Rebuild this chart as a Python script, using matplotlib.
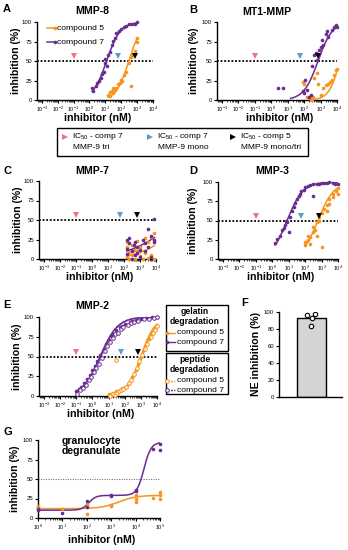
import numpy as np
import matplotlib
matplotlib.use('Agg')
import matplotlib.pyplot as plt
from matplotlib.lines import Line2D
from matplotlib.patches import Rectangle
from matplotlib.ticker import LogLocator, NullFormatter

plt.rcParams['font.family'] = ['Liberation Sans', 'DejaVu Sans']
plt.rcParams['mathtext.fontset'] = 'custom'
plt.rcParams['mathtext.rm'] = 'Liberation Sans'
plt.rcParams['mathtext.bf'] = 'Liberation Sans:bold'
plt.rcParams['mathtext.it'] = 'Liberation Sans:italic'

# ---------------- data ----------------
# IC50 markers (nM)
ic50_comp7_tri = 0.1
ic50_comp7_mono = 60
ic50_comp5_monotri = 700

# Panel A  MMP-8
A_c7_x = [1.5, 1.7, 2.5, 3, 4, 5, 6, 8, 10, 10, 12, 15, 20, 25, 30, 40, 50, 70, 100, 150, 200, 300, 500, 700, 1000]
A_c7_y = [15, 12, 18, 22, 25, 28, 33, 36, 47, 52, 44, 58, 62, 70, 76, 80, 86, 88, 91, 93, 95, 97, 98, 98, 100]
A_c5_x = [15, 20, 20, 25, 30, 30, 40, 50, 60, 80, 100, 120, 150, 200, 400, 300, 400, 500, 700, 1000, 1000]
A_c5_y = [7, 10, 5, 12, 9, 15, 13, 16, 20, 22, 26, 24, 32, 36, 18, 48, 55, 58, 63, 75, 80]
A_fit7 = (0, 100, 12, 1.0)
A_fit5 = (0, 100, 300, 1.1)

# Panel B  MT1-MMP
B_c7_x = [2.5, 5, 80, 100, 120, 150, 200, 250, 300, 400, 500, 600, 800, 1000, 1200, 1500, 2000, 2500, 3000, 5000, 7000, 9000, 9500]
B_c7_y = [16, 16, 11, 9, 26, 13, 4, 6, 43, 58, 60, 51, 64, 68, 77, 71, 85, 88, 81, 90, 94, 96, 93]
B_c5_x = [80, 100, 150, 200, 250, 300, 350, 400, 600, 700, 1000, 1500, 2000, 3000, 4000, 5000, 7000, 9000, 10000]
B_c5_y = [23, 21, 4, 2, 0, 1, 4, 28, 34, 21, 6, 15, 19, 21, 23, 26, 32, 38, 40]
B_fit7 = (0, 100, 700, 1.0)
B_fit5 = (0, 100, 15000, 1.3)

# Panel C  MMP-7
C_c7_x = [150, 150, 150, 200, 200, 300, 300, 400, 500, 500, 700, 700, 1000, 1000, 1500, 2000, 2000, 3000, 3000, 5000, 5000, 8000, 8000, 8000]
C_c7_y = [25, 13, 6, 27, 20, 10, 0, 18, 22, 5, 15, 8, 12, 3, 25, 20, 10, 38, 15, 30, 2, 51, 24, 22]
C_c5_x = [150, 150, 150, 200, 200, 300, 300, 400, 500, 700, 700, 1000, 1000, 1500, 2000, 2000, 3000, 3000, 5000, 5000, 8000, 8000]
C_c5_y = [22, 16, 2, 9, 0, 18, 5, 12, 0, 23, 10, 4, 16, 0, 8, 27, 22, 1, 28, 5, 33, 0]
C_fit7 = (0, 100, 2e5, 0.3)
C_fit5 = (0, 100, 4e5, 0.4)

# Panel D  MMP-3
D_c7_x = [1.5, 2, 3, 4, 5, 6, 7, 8, 10, 12, 15, 20, 25, 30, 40, 50, 60, 80, 100, 150, 200, 300, 300, 500, 700, 1000, 1500, 2000, 3000, 5000, 7000, 10000]
D_c7_y = [21, 26, 30, 38, 40, 44, 50, 48, 35, 55, 62, 68, 73, 78, 82, 85, 88, 90, 93, 95, 96, 97, 82, 98, 98, 99, 99, 99, 100, 99, 98, 97]
D_c5_x = [100, 100, 150, 150, 200, 200, 300, 300, 400, 500, 500, 700, 700, 1000, 1000, 1500, 2000, 2000, 3000, 3000, 5000, 5000, 8000, 10000, 10000]
D_c5_y = [18, 22, 25, 30, 20, 28, 35, 42, 38, 30, 48, 50, 55, 15, 60, 65, 62, 70, 72, 78, 80, 85, 88, 84, 92]
D_fit7 = (0, 100, 8, 0.9)
D_fit5 = (0, 100, 600, 0.9)

# Panel E  MMP-2 (gelatin / peptide degradation)
E_gel7_x = [0.1, 0.15, 0.2, 0.3, 0.5, 0.7, 1, 1.5, 2, 3, 5, 7, 10, 15, 20, 30, 50, 70, 100, 200, 300, 500, 1000, 2000, 5000, 10000]
E_gel7_y = [6, 9, 12, 16, 22, 27, 33, 38, 44, 52, 60, 66, 71, 76, 79, 83, 87, 89, 91, 94, 95, 96, 98, 99, 100, 100]
E_pep7_x = [0.12, 0.18, 0.25, 0.4, 0.6, 0.8, 1.2, 1.8, 2.5, 4, 6, 8, 12, 18, 25, 40, 60, 80, 150, 250, 400, 700, 1500, 3000, 7000, 10000]
E_pep7_y = [3, 7, 10, 14, 20, 24, 30, 36, 41, 48, 57, 63, 68, 73, 78, 80, 85, 87, 90, 92, 94, 95, 97, 98, 99, 100]
E_gel5_x = [10, 15, 20, 30, 40, 50, 70, 100, 150, 200, 300, 500, 700, 1000, 1500, 2000, 3000, 5000, 7000, 10000]
E_gel5_y = [2, 3, 4, 6, 5, 8, 10, 12, 15, 19, 24, 33, 40, 50, 58, 64, 72, 80, 85, 90]
E_pep5_x = [12, 18, 25, 30, 35, 45, 60, 80, 120, 180, 250, 400, 600, 800, 1200, 1800, 2500, 4000, 6000, 8000, 10000]
E_pep5_y = [0, 2, 1, 45, 4, 6, 8, 9, 12, 16, 20, 28, 36, 44, 52, 60, 66, 75, 80, 84, 88]
E_fit_gel7 = (0, 100, 3, 0.8)
E_fit_pep7 = (0, 100, 3.5, 0.85)
E_fit_gel5 = (0, 100, 1000, 1.0)
E_fit_pep5 = (0, 100, 1200, 1.0)

# Panel F  NE inhibition
F_mean = 93
F_points = [97, 93, 98, 84]
F_jitter = [-0.14, 0.0, 0.1, -0.01]

# Panel G  granulocyte degranulation
G_c7_x = [1, 1, 10, 100, 100, 1000, 1000, 10000, 10000, 50000, 100000, 100000]
G_c7_y = [10, 12, 7, 22, 14, 28, 29, 36, 35, 88, 95, 87]
G_c5_x = [1, 1, 10, 100, 100, 1000, 1000, 10000, 10000, 10000, 50000, 100000, 100000, 100000]
G_c5_y = [14, 15, 11, 5, 18, 15, 17, 25, 20, 30, 26, 33, 24, 30]
G_fit7 = (10, 29, 97, 120, 3.0, 2.2e4, 3.0)   # biphasic
G_fit5 = (12, 29, 2000, 1.2)

# ---------------- helpers ----------------
PURPLE = '#6a2c91'
ORANGE = '#f7941d'
RED = '#f0727f'
BLUE = '#5b9bd5'

W, H = 348, 550
fig = plt.figure(figsize=(W / 100, H / 100), dpi=100)


def fx(px):
    return px / W


def fy(py):
    return 1 - py / H


def add_ax(l, t, r, b):
    ax = fig.add_axes([l / W, 1 - b / H, (r - l) / W, (b - t) / H])
    ax.patch.set_alpha(0)
    return ax


def logistic(x, bottom, top, ic50, hill):
    return bottom + (top - bottom) / (1 + (ic50 / x) ** hill)


def biphasic(x, bottom, mid, top, ec1, h1, ec2, h2):
    return bottom + (mid - bottom) / (1 + (ec1 / x) ** h1) + (top - mid) / (1 + (ec2 / x) ** h2)


def base_style(ax, box, ylab_right, xlab_top):
    l, t, r, b = box
    for s in ['top', 'right']:
        ax.spines[s].set_visible(False)
    ax.spines['left'].set_linewidth(1.0)
    ax.spines['bottom'].set_linewidth(1.0)
    ax.tick_params(which='major', length=2.5, width=0.8, labelsize=4.3, pad=1.0)
    ax.tick_params(axis='x', which='major', labelsize=3.9)
    ax.tick_params(which='minor', length=1.4, width=0.5)
    ax.yaxis.set_label_coords((ylab_right - l) / (r - l), 0.5)
    ax.xaxis.set_label_coords(0.52, (b - xlab_top) / (b - t))


def dose_style(ax, box, ylab_right, xlab_top, xlim=(10 ** -3.3, 1e4)):
    ax.set_xscale('log')
    ax.set_xlim(*xlim)
    ax.set_ylim(0, 100)
    ax.set_yticks([0, 25, 50, 75, 100])
    ax.xaxis.set_major_locator(LogLocator(base=10, numticks=20))
    ax.xaxis.set_minor_locator(LogLocator(base=10, subs=np.arange(2, 10), numticks=20))
    ax.xaxis.set_minor_formatter(NullFormatter())
    ax.set_xlabel('inhibitor (nM)', fontsize=7.6, fontweight='bold')
    ax.set_ylabel('inhibition (%)', fontsize=7.6, fontweight='bold')
    base_style(ax, box, ylab_right, xlab_top)


def scatter(ax, x, y, color, open_=False):
    ax.plot(x, y, 'o', ms=2.6, color=color, mfc='white' if open_ else color,
            mew=0.7 if open_ else 0, ls='none', clip_on=False, zorder=4)


def curve(ax, x, func, params, color, ls='-'):
    xs = np.logspace(np.log10(min(x)), np.log10(max(x)), 200)
    ax.plot(xs, func(xs, *params), color=color, lw=1.1, ls=ls, zorder=3)


def ic50_marks(ax, y=56):
    ax.axhline(50, color='black', lw=1.3, ls=(0, (1, 1)), zorder=2)
    for xv, c in [(ic50_comp7_tri, RED), (ic50_comp7_mono, BLUE), (ic50_comp5_monotri, 'black')]:
        ax.plot([xv], [y], marker='v', ms=4, color=c, mew=0, zorder=5, clip_on=False)


def panel_text(letter, lx, ly, title=None, tx=None, ty=None):
    fig.text(fx(lx), fy(ly), letter, fontsize=8, fontweight='bold', ha='left', va='center')
    if title:
        fig.text(fx(tx), fy(ty), title, fontsize=7.6, fontweight='bold', ha='center', va='center')


# ---------------- Panel A ----------------
boxA = (37, 22, 153, 100)
ax = add_ax(*boxA)
dose_style(ax, boxA, 21, 113)
ic50_marks(ax)
curve(ax, A_c5_x, logistic, A_fit5, ORANGE)
curve(ax, A_c7_x, logistic, A_fit7, PURPLE)
scatter(ax, A_c5_x, A_c5_y, ORANGE)
scatter(ax, A_c7_x, A_c7_y, PURPLE)
panel_text('A', 3, 9, 'MMP-8', 92, 11)
for lab, col, yy in [('compound 5', ORANGE, 28), ('compound 7', PURPLE, 42)]:
    fig.add_artist(Line2D([fx(47), fx(55)], [fy(yy), fy(yy)], color=col, lw=1.1,
                          marker='o', ms=2.6, markevery=[1], mew=0))
    fig.text(fx(57), fy(yy), lab, fontsize=6.1, ha='left', va='center')

# ---------------- Panel B ----------------
boxB = (217, 22, 337, 100)
ax = add_ax(*boxB)
dose_style(ax, boxB, 199, 113)
ic50_marks(ax)
curve(ax, [200, 10000], logistic, B_fit5, ORANGE)
curve(ax, [15, 10000], logistic, B_fit7, PURPLE)
scatter(ax, B_c5_x, B_c5_y, ORANGE)
scatter(ax, B_c7_x, B_c7_y, PURPLE)
panel_text('B', 189, 10, 'MT1-MMP', 267, 12)

# ---------------- IC50 legend box ----------------
fig.add_artist(Rectangle((fx(57), fy(156)), (308 - 57) / W, (156 - 128) / H,
                         transform=fig.transFigure, fill=False, lw=1.0, ec='black'))
for tri_x, col, l1, l2 in [(65, RED, 'IC$_{50}$ - comp 7', 'MMP-9 tri'),
                           (150, BLUE, 'IC$_{50}$ - comp 7', 'MMP-9 mono'),
                           (233, 'black', 'IC$_{50}$ - comp 5', 'MMP-9 mono/tri')]:
    fig.add_artist(Line2D([fx(tri_x)], [fy(137)], marker='>', ms=4, color=col, mew=0, ls='none'))
    fig.text(fx(tri_x + 7), fy(137), l1, fontsize=6, ha='left', va='center')
    fig.text(fx(tri_x + 8), fy(147), l2, fontsize=6, ha='left', va='center')

# ---------------- Panel C ----------------
boxC = (39, 181, 156, 259)
ax = add_ax(*boxC)
dose_style(ax, boxC, 23, 272)
ic50_marks(ax)
curve(ax, C_c5_x, logistic, C_fit5, ORANGE)
curve(ax, C_c7_x, logistic, C_fit7, PURPLE)
scatter(ax, C_c5_x, C_c5_y, ORANGE)
scatter(ax, C_c7_x, C_c7_y, PURPLE)
panel_text('C', 3, 171, 'MMP-7', 92, 171)

# ---------------- Panel D ----------------
boxD = (218, 182, 338, 259)
ax = add_ax(*boxD)
dose_style(ax, boxD, 198, 272)
ic50_marks(ax)
curve(ax, D_c5_x, logistic, D_fit5, ORANGE)
curve(ax, D_c7_x, logistic, D_fit7, PURPLE)
scatter(ax, D_c5_x, D_c5_y, ORANGE)
scatter(ax, D_c7_x, D_c7_y, PURPLE)
panel_text('D', 189, 171, 'MMP-3', 272, 171)

# ---------------- Panel E ----------------
boxE = (39, 317, 157, 396)
ax = add_ax(*boxE)
dose_style(ax, boxE, 22, 409)
ic50_marks(ax)
curve(ax, E_gel5_x, logistic, E_fit_gel5, ORANGE)
curve(ax, E_pep5_x, logistic, E_fit_pep5, ORANGE, ls=(0, (1.5, 1)))
curve(ax, E_gel7_x, logistic, E_fit_gel7, PURPLE)
curve(ax, E_pep7_x, logistic, E_fit_pep7, PURPLE, ls=(0, (1.5, 1)))
scatter(ax, E_gel5_x, E_gel5_y, ORANGE)
scatter(ax, E_pep5_x, E_pep5_y, ORANGE, open_=True)
scatter(ax, E_gel7_x, E_gel7_y, PURPLE)
scatter(ax, E_pep7_x, E_pep7_y, PURPLE, open_=True)
panel_text('E', 3, 305, 'MMP-2', 92, 306)

# E legend boxes
for (t0, b0, title_lines, ls, open_) in [
        (305, 351, ['gelatin', 'degradation'], '-', False),
        (353, 394, ['peptide', 'degradation'], (0, (1.5, 1)), True)]:
    fig.add_artist(Rectangle((fx(166), fy(b0)), (228 - 166) / W, (b0 - t0) / H,
                             transform=fig.transFigure, fill=False, lw=1.0, ec='black'))
    fig.text(fx(195), fy(t0 + 7), title_lines[0], fontsize=6.2, fontweight='bold', ha='center', va='center')
    fig.text(fx(195), fy(t0 + 17), title_lines[1], fontsize=6.2, fontweight='bold', ha='center', va='center')
    for lab, col, dy in [('compound 5', ORANGE, 28), ('compound 7', PURPLE, 37)]:
        yy = t0 + dy
        fig.add_artist(Line2D([fx(167), fx(175)], [fy(yy), fy(yy)], color=col, lw=1.0, ls=ls,
                              marker='o', ms=2.6, markevery=[0],
                              mfc='white' if open_ else col, mew=0.7 if open_ else 0))
        fig.text(fx(177), fy(yy), lab, fontsize=6.1, ha='left', va='center')

# ---------------- Panel F ----------------
boxF = (279, 312, 342, 397)
ax = add_ax(*boxF)
ax.bar([0], [F_mean], width=0.8, color='#d4d4d4', edgecolor='black', lw=1.0, zorder=2)
ax.plot(np.array(F_jitter), F_points, 'o', ms=3.2, mfc='white', mec='black', mew=0.8, zorder=3)
ax.set_xlim(-0.9, 0.84)
ax.set_ylim(0, 100)
ax.set_yticks([0, 20, 40, 60, 80, 100])
ax.set_xticks([])
ax.set_ylabel('NE inhibition (%)', fontsize=7.6, fontweight='bold')
base_style(ax, boxF, 261, 410)
panel_text('F', 241, 303)

# ---------------- Panel G ----------------
boxG = (38, 440, 160, 518)
ax = add_ax(*boxG)
dose_style(ax, boxG, 20, 535, xlim=(1, 1e5))
ax.axhline(50, color='#777777', lw=0.8, ls=(0, (1, 1.2)), zorder=2)
curve(ax, G_c5_x, logistic, G_fit5, ORANGE)
curve(ax, G_c7_x, biphasic, G_fit7, PURPLE)
scatter(ax, G_c5_x, G_c5_y, ORANGE)
scatter(ax, G_c7_x, G_c7_y, PURPLE)
panel_text('G', 3, 432)
fig.text(fx(91), fy(441), 'granulocyte', fontsize=7.6, fontweight='bold', ha='center', va='center')
fig.text(fx(91), fy(451), 'degranulate', fontsize=7.6, fontweight='bold', ha='center', va='center')

fig.savefig('out.png', dpi=100)
